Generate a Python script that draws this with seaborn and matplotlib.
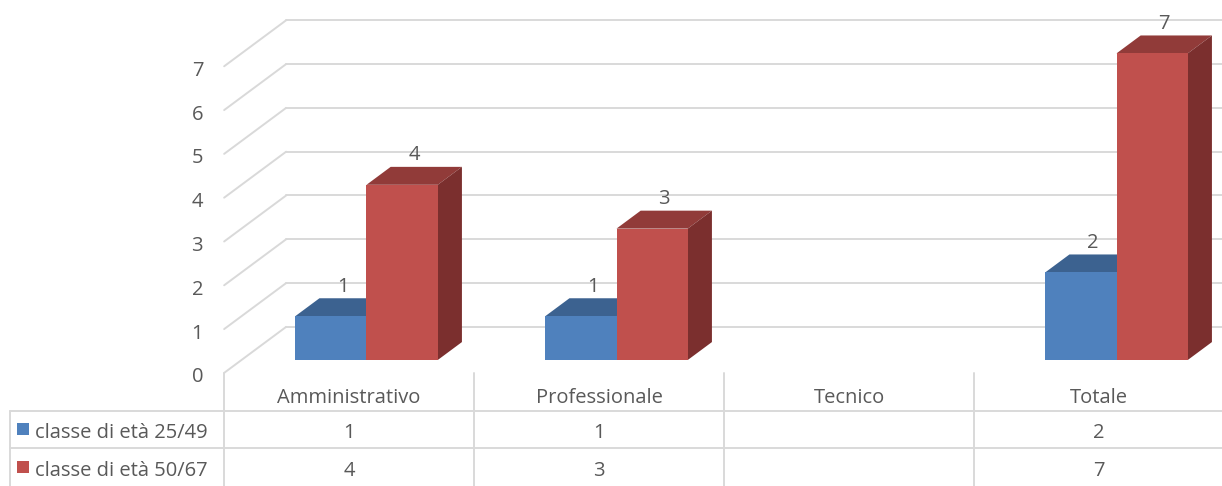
import numpy as np
import pandas as pd
import matplotlib
matplotlib.use("Agg")
import matplotlib.pyplot as plt
from matplotlib.patches import Polygon, Rectangle
from matplotlib.colors import to_hex
import seaborn as sns

# ---- data -------------------------------------------------------------
categories = ["Amministrativo", "Professionale", "Tecnico", "Totale"]
series_names = ["classe di età 25/49", "classe di età 50/67"]
values_25_49 = [1, 1, np.nan, 2]
values_50_67 = [4, 3, np.nan, 7]
y_ticks = [0, 1, 2, 3, 4, 5, 6, 7]

# ---- style ------------------------------------------------------------
front_colors = ["#4f81bd", "#c0504d"]
top_colors = ["#3c6290", "#913b39"]
side_colors = ["#34567f", "#7b2f2e"]
TEXT = "#595959"
GRID = "#d9d9d9"
FS = 14.5
VA = "center_baseline"

W, H = 1222, 486
CAT_PX = 250.0      # width of one category column in pixels
UNIT_PX = 43.8      # pixels per value unit
X0_PX = 366.5       # x of the first category centre on the bar plane
Y0_PX = 126.0       # y (from bottom) of the bar-plane baseline


def px(d):
    return d / CAT_PX


def py(d):
    return d / UNIT_PX


WALL_DX, WALL_DY = px(62), py(46)        # depth of the 3-D box
BAR_FRONT, BAR_DEPTH = 0.28, 0.39        # bar position inside the depth
FRONT_DX, FRONT_DY = -BAR_FRONT * WALL_DX, -BAR_FRONT * WALL_DY
BAR_DX, BAR_DY = BAR_DEPTH * WALL_DX, BAR_DEPTH * WALL_DY
ROW_H = py(37.7)

sns.set_theme(style="white")
plt.rcParams["font.family"] = ["Open Sans", "DejaVu Sans"]

fig = plt.figure(figsize=(W / 100, H / 100), dpi=100)
ax = fig.add_axes([0, 0, 1, 1])

df = pd.DataFrame({
    "categoria": categories * 2,
    "serie": [series_names[0]] * len(categories) + [series_names[1]] * len(categories),
    "valore": values_25_49 + values_50_67,
})
sns.barplot(data=df, x="categoria", y="valore", hue="serie", order=categories,
            hue_order=series_names, palette=front_colors, saturation=1,
            width=0.57, gap=0, errorbar=None, legend=False, linewidth=0,
            ax=ax, zorder=3)

xmin, xmax = -X0_PX / CAT_PX, (W - X0_PX) / CAT_PX
ax.set_xlim(xmin, xmax)
ax.set_ylim(-Y0_PX / UNIT_PX, (H - Y0_PX) / UNIT_PX)
ax.axis("off")

# ---- walls: side-wall diagonals and back-wall gridlines ----------------
left_front = -0.5 + FRONT_DX
for v in y_ticks:
    yf = v + FRONT_DY
    yb = yf + WALL_DY
    ax.plot([left_front, left_front + WALL_DX], [yf, yb], color=GRID, lw=1.4, zorder=0)
    ax.plot([left_front + WALL_DX, xmax], [yb, yb], color=GRID, lw=1.4, zorder=0)
    ax.text(left_front - px(21), yf - py(2), str(v), ha="right", va=VA,
            fontsize=FS, color=TEXT)

# ---- 3-D tops and sides of the bars -----------------------------------
for p in list(ax.patches):
    h = p.get_height()
    if not np.isfinite(h) or h <= 0:
        continue
    s = front_colors.index(to_hex(p.get_facecolor()))
    x, w = p.get_x(), p.get_width()
    z = 3 + s
    p.set_zorder(z + 0.5)
    top = [(x, h), (x + w, h), (x + w + BAR_DX, h + BAR_DY), (x + BAR_DX, h + BAR_DY)]
    side = [(x + w, 0), (x + w, h), (x + w + BAR_DX, h + BAR_DY), (x + w + BAR_DX, BAR_DY)]
    ax.add_patch(Polygon(top, closed=True, facecolor=top_colors[s], lw=0, zorder=z))
    ax.add_patch(Polygon(side, closed=True, facecolor=side_colors[s], lw=0, zorder=z))
    ax.text(x + w / 2 + 0.5 * BAR_DX, h + BAR_DY + py(14), f"{h:g}",
            ha="center", va=VA, fontsize=FS, color=TEXT, zorder=6)

# ---- data table -------------------------------------------------------
y_top = FRONT_DY                       # top of the table (front baseline)
rows = [y_top - k * ROW_H for k in range(4)]
table_left = px(10 - X0_PX)

for i in range(len(categories)):
    xb = i - 0.5 + FRONT_DX
    ax.plot([xb, xb], [rows[0], rows[3] - ROW_H], color=GRID, lw=1.4, zorder=0)
for k in (1, 2):
    ax.plot([table_left, xmax], [rows[k], rows[k]], color=GRID, lw=1.4, zorder=0)
ax.plot([table_left, table_left], [rows[1], rows[3] - ROW_H], color=GRID, lw=1.4, zorder=0)

for i, cat in enumerate(categories):
    xc = i + FRONT_DX
    ax.text(xc, (rows[0] + rows[1]) / 2 - py(4), cat, ha="center", va=VA,
            fontsize=FS, color=TEXT)
    for k, vals in enumerate([values_25_49, values_50_67]):
        v = vals[i]
        if np.isfinite(v):
            ax.text(xc, (rows[k + 1] + rows[k + 2]) / 2 - py(1), f"{v:g}",
                    ha="center", va=VA, fontsize=FS, color=TEXT)

for k, name in enumerate(series_names):
    yc = (rows[k + 1] + rows[k + 2]) / 2
    ax.add_patch(Rectangle((px(17 - X0_PX), yc - py(6)), px(12), py(12),
                           facecolor=front_colors[k], lw=0))
    ax.text(px(35 - X0_PX), yc - py(1), name, ha="left", va=VA,
            fontsize=FS, color=TEXT)

fig.savefig("out.png", dpi=100, facecolor="white")
